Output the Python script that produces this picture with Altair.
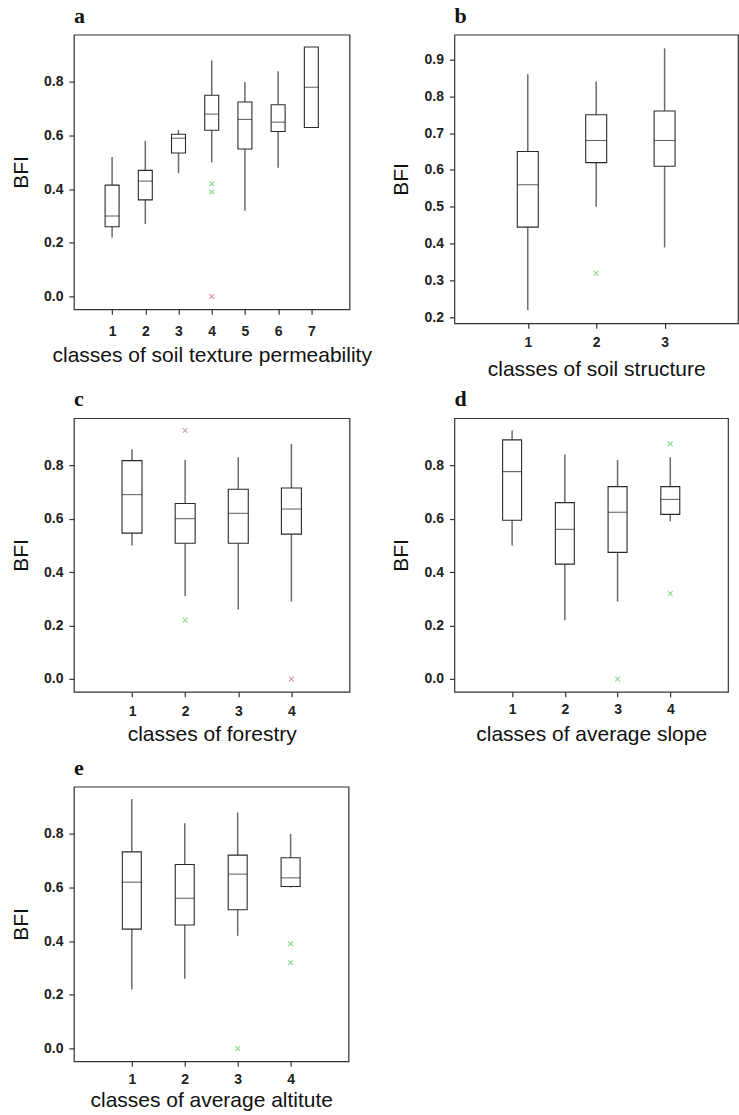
import altair as alt
import pandas as pd

# ---------- panel a : soil texture permeability ----------
a_cls = [1, 2, 3, 4, 5, 6, 7]
a_low = [0.22, 0.27, 0.46, 0.50, 0.32, 0.48, 0.63]
a_q1 = [0.26, 0.36, 0.535, 0.62, 0.55, 0.615, 0.63]
a_med = [0.30, 0.43, 0.59, 0.68, 0.66, 0.65, 0.78]
a_q3 = [0.415, 0.47, 0.605, 0.75, 0.725, 0.715, 0.93]
a_high = [0.52, 0.58, 0.62, 0.88, 0.80, 0.84, 0.93]
a_out_cls = [4, 4, 4]
a_out_val = [0.42, 0.39, 0.0]
a_out_kind = ["outlier", "outlier", "extreme"]

# ---------- panel b : soil structure ----------
b_cls = [1, 2, 3]
b_low = [0.22, 0.50, 0.39]
b_q1 = [0.445, 0.62, 0.61]
b_med = [0.56, 0.68, 0.68]
b_q3 = [0.65, 0.75, 0.76]
b_high = [0.86, 0.84, 0.93]
b_out_cls = [2]
b_out_val = [0.32]
b_out_kind = ["outlier"]

# ---------- panel c : forestry ----------
c_cls = [1, 2, 3, 4]
c_low = [0.50, 0.31, 0.26, 0.29]
c_q1 = [0.546, 0.508, 0.508, 0.542]
c_med = [0.69, 0.60, 0.62, 0.636]
c_q3 = [0.817, 0.657, 0.71, 0.715]
c_high = [0.86, 0.82, 0.83, 0.88]
c_out_cls = [2, 2, 4]
c_out_val = [0.93, 0.22, 0.0]
c_out_kind = ["outlier2", "outlier", "extreme"]

# ---------- panel d : average slope ----------
d_cls = [1, 2, 3, 4]
d_low = [0.50, 0.22, 0.29, 0.59]
d_q1 = [0.594, 0.43, 0.474, 0.616]
d_med = [0.776, 0.56, 0.624, 0.672]
d_q3 = [0.895, 0.66, 0.72, 0.72]
d_high = [0.93, 0.84, 0.82, 0.83]
d_out_cls = [3, 4, 4]
d_out_val = [0.0, 0.88, 0.32]
d_out_kind = ["outlier", "outlier", "outlier"]

# ---------- panel e : average altitude ----------
e_cls = [1, 2, 3, 4]
e_low = [0.22, 0.26, 0.42, 0.60]
e_q1 = [0.445, 0.46, 0.517, 0.604]
e_med = [0.62, 0.56, 0.65, 0.636]
e_q3 = [0.733, 0.686, 0.721, 0.711]
e_high = [0.93, 0.84, 0.88, 0.80]
e_out_cls = [3, 4, 4]
e_out_val = [0.0, 0.39, 0.32]
e_out_kind = ["outlier", "outlier", "outlier"]

KIND_DOMAIN = ["outlier", "outlier2", "extreme"]
KIND_RANGE = ["#86d886", "#c4aab4", "#e38aa2"]
XSHAPE = "M-1,-1L1,1M1,-1L-1,1"


def panel(letter, cls, low, q1, med, q3, high, ocls, oval, okind,
          xtitle, ydom, yvals, w, h, box, lpad, tpad):
    df = pd.DataFrame({"cls": cls, "low": low, "q1": q1, "med": med,
                       "q3": q3, "high": high})
    od = pd.DataFrame({"cls": ocls, "val": oval, "kind": okind})
    n = len(cls)
    xs = alt.Scale(domain=[0, n + 1], nice=False, zero=False)
    ys = alt.Scale(domain=ydom, nice=False, zero=False)
    xax = alt.Axis(values=cls, format="d", title=xtitle, grid=False,
                   domain=False, tickSize=5, labelPadding=lpad,
                   titlePadding=tpad)
    yax = alt.Axis(values=yvals, format=".1f", title="BFI", grid=False,
                   domain=False, tickSize=5, labelPadding=6,
                   titlePadding=12)
    base = alt.Chart(df)
    whisk = base.mark_rule(color="#6a6a6a", strokeWidth=1.5).encode(
        x=alt.X("cls:Q", scale=xs, axis=xax),
        y=alt.Y("low:Q", scale=ys, axis=yax),
        y2="high:Q",
    )
    boxes = base.mark_bar(size=box, fill="white", stroke="#2a2a2a",
                          strokeWidth=1.1).encode(
        x=alt.X("cls:Q", scale=xs),
        y=alt.Y("q1:Q", scale=ys),
        y2="q3:Q",
    )
    meds = base.mark_tick(orient="horizontal", size=box, thickness=1.1,
                          color="#2a2a2a").encode(
        x=alt.X("cls:Q", scale=xs),
        y=alt.Y("med:Q", scale=ys),
    )
    outs = alt.Chart(od).mark_point(shape=XSHAPE, filled=False, size=22,
                                    strokeWidth=1.1, opacity=1).encode(
        x=alt.X("cls:Q", scale=xs),
        y=alt.Y("val:Q", scale=ys),
        color=alt.Color("kind:N", scale=alt.Scale(domain=KIND_DOMAIN,
                                                  range=KIND_RANGE),
                        legend=None),
    )
    return alt.layer(whisk, boxes, meds, outs).properties(
        width=w, height=h,
        title=alt.TitleParams(letter, anchor="start", frame="group",
                              font="Liberation Serif", fontSize=22,
                              fontWeight="bold", color="#111", offset=7),
    )


y01 = [0.0, 0.2, 0.4, 0.6, 0.8]
ydom = [-0.048, 0.976]

pa = panel("a", a_cls, a_low, a_q1, a_med, a_q3, a_high,
           a_out_cls, a_out_val, a_out_kind,
           "classes of soil texture permeability", ydom, y01, 276, 275, 14,
           10, 6)
pb = panel("b", b_cls, b_low, b_q1, b_med, b_q3, b_high,
           b_out_cls, b_out_val, b_out_kind,
           "classes of soil structure", [0.184, 0.967],
           [0.2, 0.3, 0.4, 0.5, 0.6, 0.7, 0.8, 0.9], 284, 289, 21, 7, 9)
pc = panel("c", c_cls, c_low, c_q1, c_med, c_q3, c_high,
           c_out_cls, c_out_val, c_out_kind,
           "classes of forestry", ydom, y01, 276, 274, 20, 8, 5)
pd_ = panel("d", d_cls, d_low, d_q1, d_med, d_q3, d_high,
            d_out_cls, d_out_val, d_out_kind,
            "classes of average slope", ydom, y01, 274, 274, 19, 6, 7)
pe = panel("e", e_cls, e_low, e_q1, e_med, e_q3, e_high,
           e_out_cls, e_out_val, e_out_kind,
           "classes of average altitute", ydom, y01, 275, 275, 19, 6, 3)

chart = alt.concat(pa, pb, pc, pd_, pe, columns=2,
                   spacing={"row": 95, "column": 105},
                   bounds="flush").properties(
    padding={"left": 9, "top": 3, "right": 0, "bottom": 0},
    background="white",
).configure_view(
    stroke="#333", strokeWidth=1.2
).configure_axis(
    labelFont="Liberation Sans", labelFontSize=14, labelFontWeight="bold",
    labelColor="#222", titleFont="Liberation Sans", titleFontSize=21,
    titleFontWeight="normal", titleColor="#111", tickColor="#333",
    tickWidth=1.2,
)

chart.save("out.html", embed_options={"renderer": "svg", "actions": False})
